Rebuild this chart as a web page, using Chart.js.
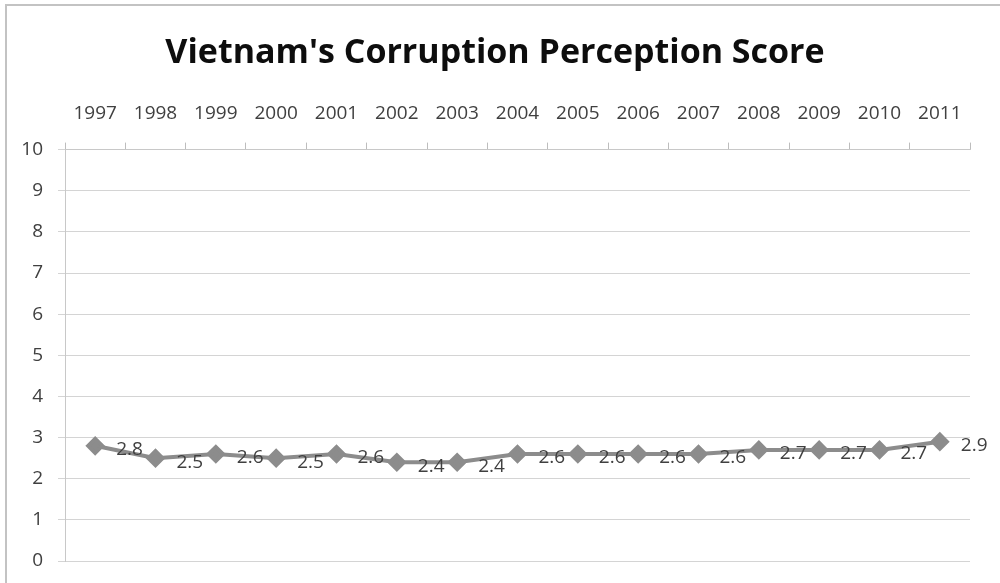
<!DOCTYPE html>
<html>
<head>
<meta charset="utf-8">
<script src="https://cdn.jsdelivr.net/npm/chart.js@4.4.0/dist/chart.umd.min.js"></script>
<style>
  html, body { margin: 0; padding: 0; background: #fff; overflow: hidden; }
  #wrap { position: relative; width: 1000px; height: 583px; }
  #frame {
    position: absolute; left: 5px; top: 4px; width: 1100px; height: 700px;
    border: 2px solid #c3c3c3; pointer-events: none;
  }
  canvas { position: absolute; left: 0; top: 0; }
</style>
</head>
<body>
<div id="wrap">
  <canvas id="chart" width="1000" height="583"></canvas>
  <div id="frame"></div>
</div>
<script>
// Vietnam CPI scores
const years = ['1997', '1998', '1999', '2000', '2001', '2002', '2003', '2004',
               '2005', '2006', '2007', '2008', '2009', '2010', '2011'];
const scores = [2.8, 2.5, 2.6, 2.5, 2.6, 2.4, 2.4, 2.6, 2.6, 2.6, 2.6, 2.7, 2.7, 2.7, 2.9];

const lineGray = '#8c8c8c';
const textGray = '#404040';
const gridGray = '#d4d4d4';

// draw the value next to each point, like Excel's "right" label position
const valueLabels = {
  id: 'valueLabels',
  afterDatasetsDraw(chart) {
    const ctx = chart.ctx;
    const meta = chart.getDatasetMeta(0);
    ctx.save();
    ctx.font = '19px "Open Sans"';
    ctx.fillStyle = textGray;
    ctx.textAlign = 'left';
    ctx.textBaseline = 'middle';
    meta.data.forEach((pt, i) => {
      ctx.fillText(scores[i].toFixed(1), pt.x + 21, pt.y + 4);
    });
    ctx.restore();
  }
};

const ctx = document.getElementById('chart').getContext('2d');
new Chart(ctx, {
  type: 'line',
  data: {
    labels: years,
    datasets: [{
      data: scores,
      borderColor: lineGray,
      backgroundColor: lineGray,
      borderWidth: 4,
      pointStyle: 'rectRot',
      pointRadius: 7,
      pointHoverRadius: 7,
      tension: 0
    }]
  },
  options: {
    responsive: false,
    animation: false,
    layout: {
      padding: { top: 0, left: 20, right: 30, bottom: 22 }
    },
    scales: {
      x: {
        position: 'top',
        offset: true,
        grid: {
          offset: true,
          drawOnChartArea: false,
          drawTicks: true,
          tickLength: 7,
          color: '#bdbdbd'
        },
        border: { display: true, color: '#c8c8c8' },
        ticks: {
          padding: 18,
          color: textGray,
          font: { family: 'Open Sans', size: 19 },
          maxRotation: 0,
          autoSkip: false
        }
      },
      y: {
        min: 0,
        max: 10,
        grid: {
          color: gridGray,
          drawTicks: true,
          tickLength: 7
        },
        border: { display: true, color: '#c8c8c8' },
        ticks: {
          stepSize: 1,
          padding: 15,
          color: textGray,
          font: { family: 'Open Sans', size: 19 }
        },
        afterFit(scale) {
          scale.width = 45;
          scale.paddingBottom = 0;
        }
      }
    },
    plugins: {
      legend: { display: false },
      tooltip: { enabled: false },
      title: {
        display: true,
        text: "Vietnam's Corruption Perception Score",
        color: '#0d0d0d',
        font: { family: 'Open Sans', size: 34, weight: 'bold' },
        padding: { top: 33, bottom: 10 }
      }
    }
  },
  plugins: [valueLabels]
});
</script>
</body>
</html>
